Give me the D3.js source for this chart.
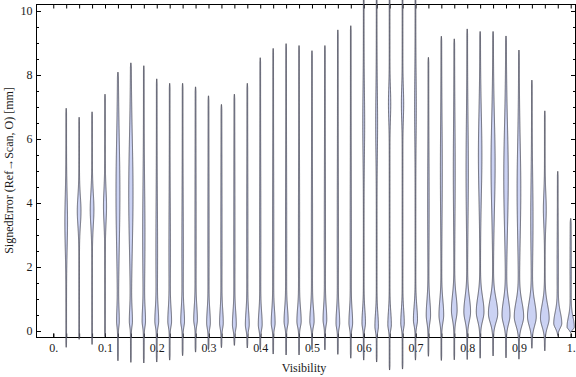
<!DOCTYPE html>
<html><head><meta charset="utf-8">
<script src="https://cdn.jsdelivr.net/npm/d3@7"></script>
<style>html,body{margin:0;padding:0;background:#fff;} svg{display:block;}</style>
</head><body>
<svg id="chart" width="576" height="377"></svg>
<script>
// ---- data ----
const visibility = [0.025,0.05,0.075,0.1,0.125,0.15,0.175,0.2,0.225,0.25,0.275,0.3,0.325,0.35,0.375,0.4,0.425,0.45,0.475,0.5,0.525,0.55,0.575,0.6,0.625,0.65,0.675,0.7,0.725,0.75,0.775,0.8,0.825,0.85,0.875,0.9,0.925,0.95,0.975,1.0];
const errMax = [6.96,6.68,6.85,7.40,8.09,8.38,8.29,7.88,7.74,7.74, 7.63,7.35,7.08,7.40,7.74,8.54,8.83,8.98,8.92,8.76, 8.92,9.41,9.54,10.9,11.1,11.3,11.0,10.7,8.55,9.21, 9.13,9.44,9.36,9.36,9.22,8.78,7.84,6.88,4.99,3.52];
const errMin = [-0.51,-0.26,-0.42,-0.18,-0.93,-0.98,-1.00,-0.97,-0.91,-0.77, -0.66,-0.58,-0.52,-0.45,-0.53,-0.58,-0.72,-0.75,-0.75,-0.58, -0.59,-0.73,-0.85,-0.91,-0.97,-1.22,-1.19,-0.91,-0.79,-0.92, -0.90,-0.89,-0.85,-0.78,-0.84,-0.88,-0.54,-0.62,-0.14,-0.05];
// main mode (near zero error)
const mode1Err = [0.3,0.3,0.3,0.3,0.3,0.3,0.3,0.3,0.3,0.3, 0.35,0.25,0.25,0.2,0.2,0.2,0.25,0.3,0.3,0.3, 0.35,0.25,0.25,0.25,0.15,0.2,0.25,0.35,0.5,0.5, 0.65,0.6,0.6,0.55,0.5,0.45,0.45,0.4,0.24,0.13];
const mode1Density = [0,0,0,0,0.18,0.22,0.24,0.28,0.28,0.28, 0.28,0.28,0.28,0.30,0.30,0.30,0.30,0.32,0.34,0.34, 0.28,0.28,0.28,0.28,0.28,0.28,0.28,0.34,0.36,0.40, 0.50,0.60,0.70,0.86,0.72,0.86,0.80,0.80,0.72,0.64];
const mode1SpreadUp = [0.4,0.4,0.4,0.4,0.4,0.4,0.4,0.4,0.4,0.4, 0.4,0.4,0.4,0.4,0.4,0.4,0.4,0.4,0.4,0.4, 0.4,0.4,0.4,0.4,0.4,0.4,0.4,0.42,0.45,0.45, 0.45,0.45,0.45,0.45,0.45,0.45,0.45,0.42,0.34,0.3];
const mode1SpreadDown = [0.16,0.16,0.16,0.16,0.16,0.16,0.16,0.16,0.16,0.16, 0.16,0.16,0.16,0.16,0.16,0.16,0.16,0.16,0.16,0.16, 0.16,0.16,0.16,0.16,0.16,0.16,0.16,0.18,0.24,0.24, 0.28,0.28,0.28,0.28,0.28,0.28,0.28,0.26,0.14,0.1];
// secondary mode (larger errors)
const mode2Err = [3.4,3.75,3.8,3.9,4.3,4.3,3.0,2.5,2.5,2.5, 3,3,3,3,3,3,3,3,3,3, 3,3,3,6.5,6.5,7.1,7.1,7.0,4.0,5.0, 5.0,5.0,5.5,5.2,4.8,4.4,3.5,3.8,2.0,2.0];
const mode2Density = [0.2,0.3,0.3,0.24,0.32,0.36,0.16,0.10,0.08,0.08, 0.05,0.05,0.05,0.05,0.05,0.05,0.05,0.05,0.05,0.05, 0.05,0.05,0.05,0.12,0.12,0.16,0.16,0.10,0.08,0.12, 0.12,0.16,0.28,0.34,0.38,0.30,0.16,0.22,0.06,0.06];
const mode2Spread = [0.8,0.45,0.5,0.5,1.7,1.7,1.5,1.5,1.5,1.5, 2,2,2,2,2,2,2,2,2,2, 2,2,2,1.0,1.0,0.5,0.5,1.0,1.5,1.5, 1.5,1.5,1.3,1.4,1.6,1.5,1.2,0.5,1.0,1.0];
const tailDensity = 0.07;

const xTickValues = [0,0.1,0.2,0.3,0.4,0.5,0.6,0.7,0.8,0.9,1.0];
const xTickLabels = ["0.","0.1","0.2","0.3","0.4","0.5","0.6","0.7","0.8","0.9","1."];
const yTickValues = [0,2,4,6,8,10];
const yMinorTicks = [0.5,1,1.5,2.5,3,3.5,4.5,5,5.5,6.5,7,7.5,8.5,9,9.5];
const xLabel = "Visibility";
const yLabel = "SignedError (Ref\u2192Scan, O) [mm]";

// ---- drawing ----
const svg = d3.select("#chart");
const font = "'Liberation Serif','Times New Roman',serif";
const x = d3.scaleLinear().domain([-0.0324, 1.0093]).range([36.5, 575.5]);
const y = d3.scaleLinear().domain([-0.203, 10.203]).range([337.5, 4.5]);
const wScale = d3.scaleLinear().domain([0, 1]).range([0, 5]);

// frame
svg.append("rect").attr("x", 36.5).attr("y", 4.5).attr("width", 539).attr("height", 333)
  .attr("fill", "none").attr("stroke", "#000").attr("stroke-width", 1);

function styleAxis(g){
  g.select(".domain").remove();
  g.selectAll(".tick line").attr("stroke", "#000").attr("stroke-width", 1);
  g.selectAll(".tick text").attr("fill", "#1a1a1a").attr("font-family", font).attr("font-size", 12);
}

// left axis
svg.append("g").attr("transform", "translate(36.5,0)")
  .call(d3.axisLeft(y).tickValues(yTickValues).tickSize(-4.5).tickPadding(4).tickFormat(d3.format("d")))
  .call(styleAxis);
svg.append("g").attr("transform", "translate(36.5,0)")
  .call(d3.axisLeft(y).tickValues(yMinorTicks).tickSize(-2.5).tickFormat(""))
  .call(styleAxis);
// right frame ticks
svg.append("g").attr("transform", "translate(575.5,0)")
  .call(d3.axisRight(y).tickValues(yTickValues).tickSize(-4.5).tickFormat(""))
  .call(styleAxis);
svg.append("g").attr("transform", "translate(575.5,0)")
  .call(d3.axisRight(y).tickValues(yMinorTicks).tickSize(-2.5).tickFormat(""))
  .call(styleAxis);
// top frame ticks
svg.append("g").attr("transform", "translate(0,4.5)")
  .call(d3.axisTop(x).tickValues([0, ...visibility]).tickSize(-4).tickFormat(""))
  .call(styleAxis);
// bottom axis
svg.append("g").attr("transform", "translate(0,337.5)")
  .call(d3.axisBottom(x).tickValues([0, ...visibility]).tickSize(-4).tickFormat(""))
  .call(styleAxis);
svg.append("g").attr("transform", "translate(0,337.5)")
  .call(d3.axisBottom(x).tickValues(xTickValues).tickSize(-4).tickPadding(6)
        .tickFormat((d, i) => xTickLabels[i]))
  .call(styleAxis);

// violins
const fill = "#cbd2f3", edge = "#3a3a46";
const gV = svg.append("g");
visibility.forEach((vis, i) => {
  const lo = errMin[i], hi = errMax[i];
  const n = 500;
  const pts = d3.range(n + 1).map(j => {
    const v = lo + (hi - lo) * j / n;
    const s1 = v > mode1Err[i] ? mode1SpreadUp[i] : mode1SpreadDown[i];
    const d = tailDensity
      + mode1Density[i] * Math.exp(-((v - mode1Err[i]) ** 2) / (2 * s1 * s1))
      + mode2Density[i] * Math.exp(-((v - mode2Err[i]) ** 2) / (2 * mode2Spread[i] ** 2));
    const t = Math.min(1, Math.sqrt(Math.max(0, v - lo) / 0.15), Math.sqrt(Math.max(0, hi - v) / 0.15));
    return {v, w: wScale(d * t)};
  });
  const cx = x(vis);
  const area = d3.area().y(p => y(p.v)).x0(p => cx - p.w).x1(p => cx + p.w);
  gV.append("path").attr("d", area(pts))
    .attr("fill", fill).attr("stroke", edge).attr("stroke-width", 0.85)
    .attr("stroke-opacity", 0.9).attr("stroke-linejoin", "round");
});

// axis titles
svg.append("text").attr("x", 304).attr("y", 372).attr("text-anchor", "middle")
  .attr("font-family", font).attr("font-size", 12).attr("fill", "#1a1a1a").text(xLabel);
svg.append("text").attr("transform", "translate(12.5,170.5) rotate(-90)").attr("text-anchor", "middle")
  .attr("font-family", font).attr("font-size", 12).attr("fill", "#1a1a1a").text(yLabel);
</script></body></html>
